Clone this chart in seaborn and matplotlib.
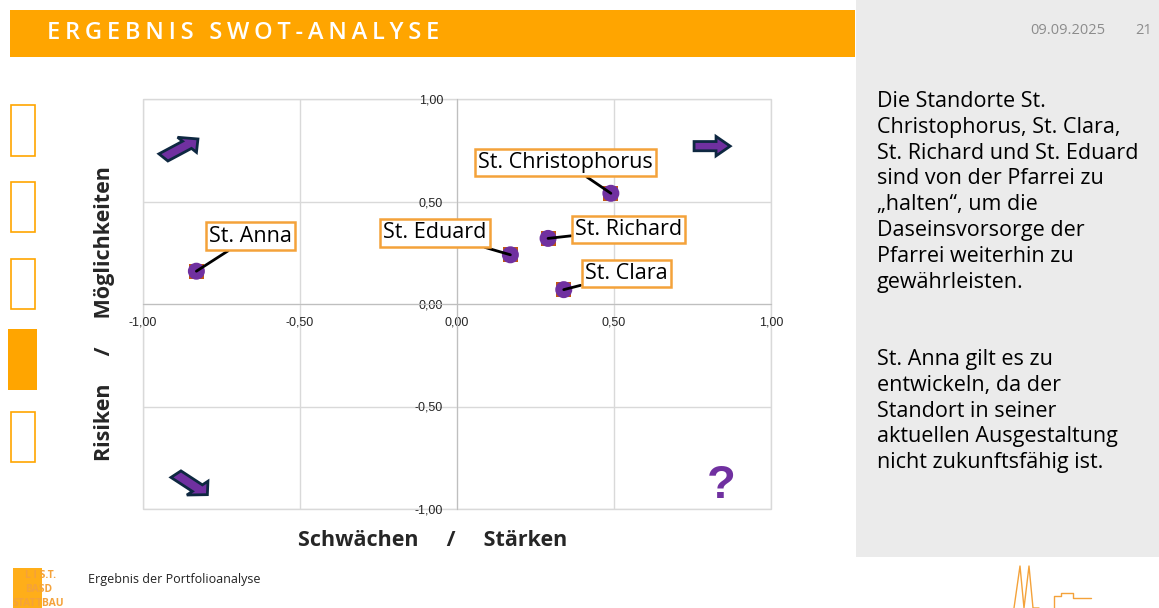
import matplotlib
matplotlib.use("Agg")
import matplotlib.pyplot as plt
import seaborn as sns
import pandas as pd
from matplotlib.patches import Rectangle, FancyArrow
from matplotlib.ticker import FuncFormatter

# ---------------- data ----------------
standorte = ["St. Anna", "St. Eduard", "St. Richard", "St. Clara", "St. Christophorus"]
staerken = [-0.83, 0.17, 0.29, 0.34, 0.49]          # Schwächen / Stärken
moeglichkeiten = [0.16, 0.24, 0.32, 0.07, 0.54]     # Risiken / Möglichkeiten
tick_values = [-1.0, -0.5, 0.0, 0.5, 1.0]

title = "ERGEBNIS SWOT-ANALYSE"
date_text = "09.09.2025"
page_no = "21"
x_label = "Schwächen     /     Stärken"
y_label = "Risiken     /     Möglichkeiten"
footer = "Ergebnis der Portfolioanalyse"
para1 = ("Die Standorte St.\nChristophorus, St. Clara,\nSt. Richard und St. Eduard\n"
         "sind von der Pfarrei zu\n„halten“, um die\nDaseinsvorsorge der\n"
         "Pfarrei weiterhin zu\ngewährleisten.")
para2 = ("St. Anna gilt es zu\nentwickeln, da der\nStandort in seiner\n"
         "aktuellen Ausgestaltung\nnicht zukunftsfähig ist.")

# ---------------- layout / style ----------------
ORANGE = "#FFA500"
BOX_ORANGE = "#F4A23A"
PURPLE = "#7030A0"
NAVY = "#0E2841"
label_offsets = {  # pixel offsets of label anchor from point, alignment
    "St. Anna": (13, 35, "left"),
    "St. Eduard": (-24, 22, "right"),
    "St. Richard": (27, 9, "left"),
    "St. Clara": (21, 16, "left"),
    "St. Christophorus": (-133, 31, "left"),
}

sns.set_style("white")
plt.rcParams["font.family"] = ["Open Sans", "DejaVu Sans"]

W, H = 1159, 608
fig = plt.figure(figsize=(W / 100, H / 100), dpi=100)
fig.patch.set_facecolor("white")

def fx(px):
    return px / W

def fy(py):
    return 1 - py / H

# right grey panel
fig.patches.append(Rectangle((fx(856), fy(557)), fx(1159) - fx(856), fy(0) - fy(557),
                             transform=fig.transFigure, fc="#EBEBEB", ec="none", zorder=0))
# header bar
fig.patches.append(Rectangle((fx(10), fy(57)), fx(855) - fx(10), fy(10) - fy(57),
                             transform=fig.transFigure, fc=ORANGE, ec="none", zorder=1))
spaced = "\u2009".join(list(title))
fig.text(fx(47), fy(33), spaced, color="white", fontsize=17, fontweight="semibold",
         va="center", ha="left", family=["Open Sans", "DejaVu Sans"])
fig.text(fx(1105), fy(30), date_text, color="#8C8C8C", fontsize=10.5, ha="right", va="center")
fig.text(fx(1152), fy(30), page_no, color="#8C8C8C", fontsize=10.5, ha="right", va="center")

# left nav rectangles
for (y0, y1, filled) in [(105, 156, False), (182, 232, False), (259, 309, False),
                         (329, 390, True), (412, 462, False)]:
    if filled:
        fig.patches.append(Rectangle((fx(8), fy(y1)), fx(37) - fx(8), fy(y0) - fy(y1),
                                     transform=fig.transFigure, fc=ORANGE, ec="none"))
    else:
        fig.patches.append(Rectangle((fx(11), fy(y1)), fx(35) - fx(11), fy(y0) - fy(y1),
                                     transform=fig.transFigure, fc="none", ec=ORANGE, lw=1.2))

# right-hand text
fig.text(fx(877), fy(91), para1, fontsize=15.5, va="top", ha="left", linespacing=1.3,
         color="black")
fig.text(fx(877), fy(349), para2, fontsize=15.5, va="top", ha="left", linespacing=1.3,
         color="black")

# footer
fig.text(fx(88), fy(579), footer, fontsize=9, va="center", ha="left", color="#222222")
fig.patches.append(Rectangle((fx(13), fy(608)), fx(42) - fx(13), fy(568) - fy(608),
                             transform=fig.transFigure, fc=ORANGE, ec="none", alpha=0.9))
fig.text(fx(25), fy(576), "L I S.T.", fontsize=7.5, color="#F4A23A", fontweight="bold",
         va="center", ha="left")
fig.text(fx(25), fy(590), "BASD", fontsize=7.5, color="#F4A23A", fontweight="bold",
         va="center", ha="left")
fig.text(fx(13), fy(603), "STATTBAU", fontsize=7.5, color="#F4A23A", fontweight="bold",
         va="center", ha="left")
# skyline doodle
sky_x = [1014, 1020, 1024, 1029, 1033, 1039]
sky_y = [608, 566, 608, 566, 608, 608]
fig.lines.append(plt.Line2D([fx(v) for v in sky_x], [fy(v) for v in sky_y],
                            transform=fig.transFigure, color=BOX_ORANGE, lw=1))
bx = [1054, 1054, 1061, 1061, 1073, 1073, 1091]
by = [608, 596, 596, 593, 593, 598, 598]
fig.lines.append(plt.Line2D([fx(v) for v in bx], [fy(v) for v in by],
                            transform=fig.transFigure, color=BOX_ORANGE, lw=1))

# ---------------- chart ----------------
ax = fig.add_axes([fx(143), fy(509), fx(771) - fx(143), fy(99) - fy(509)])
df = pd.DataFrame({"Standort": standorte, "x": staerken, "y": moeglichkeiten})

ax.set_xlim(-1, 1)
ax.set_ylim(-1, 1)
ax.set_xticks(tick_values)
ax.set_yticks(tick_values)
fmt = FuncFormatter(lambda v, p: f"{v:.2f}".replace(".", ",").replace("−", "-"))
ax.xaxis.set_major_formatter(fmt)
ax.yaxis.set_major_formatter(fmt)
ax.grid(True, color="#D9D9D9", lw=1)
ax.set_axisbelow(True)
for s in ["top", "right"]:
    ax.spines[s].set_visible(False)
ax.spines["left"].set_position(("data", 0))
ax.spines["bottom"].set_position(("data", 0))
ax.spines["left"].set_color("#BFBFBF")
ax.spines["bottom"].set_color("#BFBFBF")
ax.add_patch(Rectangle((0, 0), 1, 1, transform=ax.transAxes, fill=False,
                       ec="#D9D9D9", lw=1, clip_on=False, zorder=0))
ax.tick_params(axis="x", length=0, labelsize=9, labelcolor="#262626", pad=9)
ax.tick_params(axis="y", length=0, labelsize=9, labelcolor="#262626", pad=10)
for lab in ax.get_xticklabels() + ax.get_yticklabels():
    lab.set_family(["Liberation Sans", "DejaVu Sans"])

sns.scatterplot(data=df, x="x", y="y", ax=ax, marker="s", s=115, color="#C55A11",
                edgecolor="none", zorder=3, legend=False)
sns.scatterplot(data=df, x="x", y="y", ax=ax, marker="o", s=150, color=PURPLE,
                edgecolor="none", zorder=4, legend=False)
ax.set_xlabel("")
ax.set_ylabel("")

for name, xv, yv in zip(standorte, staerken, moeglichkeiten):
    dx, dy, ha = label_offsets[name]
    ax.annotate(name, xy=(xv, yv), xytext=(dx, dy), textcoords="offset pixels",
                ha=ha, va="center", fontsize=15.5, color="black", zorder=5,
                bbox=dict(boxstyle="square,pad=0.15", fc="white", ec=BOX_ORANGE, lw=1.8),
                arrowprops=dict(arrowstyle="-", color="black", lw=2, shrinkA=0, shrinkB=0))

# axis titles
fig.text(fx(433), fy(540), x_label, fontsize=15.5, fontweight="bold", ha="center", va="center")
fig.text(fx(105), fy(314), y_label, fontsize=15.5, fontweight="bold", ha="center", va="center",
         rotation=90)

# decorative arrows
for (x0, y0, ddx, ddy) in [(-0.935, 0.715, 0.11, 0.09), (0.755, 0.77, 0.115, 0.0),
                           (-0.895, -0.83, 0.10, -0.10)]:
    ax.add_patch(FancyArrow(x0, y0, ddx, ddy, width=0.045, head_width=0.095,
                            head_length=0.045, length_includes_head=True,
                            fc=PURPLE, ec=NAVY, lw=2, zorder=5))
ax.text(0.84, -0.89, "?", fontsize=34, fontweight="bold", color=PURPLE,
        ha="center", va="center", zorder=5, family=["Liberation Sans", "DejaVu Sans"])

fig.savefig("out.png", dpi=100)
